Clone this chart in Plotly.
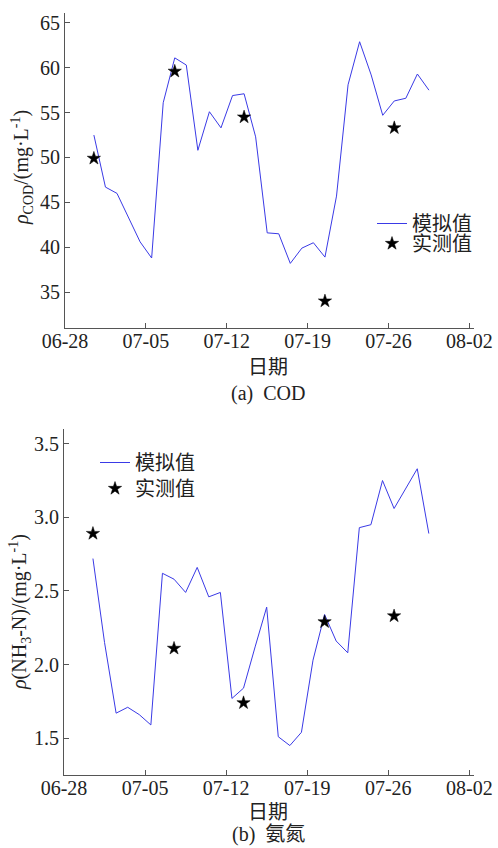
import pandas as pd
import plotly.graph_objects as go

# ---- data ----
sim_dates = pd.date_range("2020-06-30 12:00", periods=30, freq="D")
cod_sim = [52.5, 46.7, 46.0, 43.2, 40.6, 38.8, 56.1, 61.1, 60.3, 50.8,
           55.1, 53.3, 56.9, 57.1, 52.3, 41.6, 41.5, 38.2, 39.9, 40.5,
           38.9, 45.7, 58.1, 62.9, 59.2, 54.7, 56.3, 56.6, 59.3, 57.5]
nh_sim = [2.72, 2.15, 1.67, 1.71, 1.66, 1.59, 2.62, 2.58, 2.49, 2.66,
          2.46, 2.49, 1.77, 1.84, 2.12, 2.39, 1.51, 1.45, 1.54, 2.03,
          2.34, 2.16, 2.08, 2.93, 2.95, 3.25, 3.06, 3.20, 3.33, 2.89]
obs_dates = ["2020-06-30 12:00", "2020-07-07 12:00", "2020-07-13 12:00",
             "2020-07-20 12:00", "2020-07-26 12:00"]
cod_obs = [49.9, 59.6, 54.5, 34.0, 53.3]
nh_obs = [2.89, 2.11, 1.74, 2.29, 2.33]

x_tickvals = ["2020-06-28", "2020-07-05", "2020-07-12", "2020-07-19", "2020-07-26", "2020-08-02"]
x_ticktext = ["06-28", "07-05", "07-12", "07-19", "07-26", "08-02"]
cod_ticks = [35, 40, 45, 50, 55, 60, 65]
nh_ticks = [1.5, 2.0, 2.5, 3.0, 3.5]
nh_ticktext = ["1.5", "2.0", "2.5", "3.0", "3.5"]

# ---- figure ----
W, H = 498, 848
FONT = "Times New Roman, Liberation Serif, Noto Sans CJK SC"
LINE_COLOR = "#3a3ae6"
AX = "#555555"
TXT = "#222222"

def py(y):
    return 1 - y / H

star = dict(symbol="star", size=10, color="black", line=dict(color="black", width=0.5))

fig = go.Figure()
fig.add_trace(go.Scatter(x=sim_dates, y=cod_sim, mode="lines", name="模拟值",
                         line=dict(color=LINE_COLOR, width=1), xaxis="x", yaxis="y",
                         legend="legend"))
fig.add_trace(go.Scatter(x=obs_dates, y=cod_obs, mode="markers", name="实测值",
                         marker=star, xaxis="x", yaxis="y", legend="legend2"))
fig.add_trace(go.Scatter(x=sim_dates, y=nh_sim, mode="lines", name="模拟值",
                         line=dict(color=LINE_COLOR, width=1), xaxis="x2", yaxis="y2",
                         legend="legend3"))
fig.add_trace(go.Scatter(x=obs_dates, y=nh_obs, mode="markers", name="实测值",
                         marker=star, xaxis="x2", yaxis="y2", legend="legend4"))

xcommon = dict(type="date", range=["2020-06-28", "2020-08-02 09:36"],
               tickvals=x_tickvals, ticktext=x_ticktext, automargin=False,
               showline=True, linecolor=AX, linewidth=1, ticks="inside",
               ticklen=5, tickcolor=AX, showgrid=False, zeroline=False,
               ticklabelstandoff=-5,
               tickfont=dict(family=FONT, size=20, color=TXT))
ycommon = dict(showline=True, linecolor=AX, linewidth=1, ticks="inside",
               ticklen=5, tickcolor=AX, showgrid=False, zeroline=False,
               automargin=False,
               tickfont=dict(family=FONT, size=20, color=TXT))

def leg(xpx, ytop):
    return dict(x=xpx / W, y=py(ytop), xanchor="left", yanchor="top",
                bgcolor="rgba(0,0,0,0)", font=dict(family=FONT, size=20, color=TXT),
                itemwidth=30)

fig.update_layout(
    width=W, height=H, margin=dict(l=0, r=0, t=0, b=0, autoexpand=False),
    paper_bgcolor="white", plot_bgcolor="white",
    font=dict(family=FONT, size=20, color=TXT),
    xaxis=dict(xcommon, domain=[65 / W, 474 / W], anchor="y"),
    yaxis=dict(ycommon, domain=[py(328), py(13)], range=[31, 66.1],
               tickvals=cod_ticks, anchor="x"),
    xaxis2=dict(xcommon, domain=[64 / W, 474 / W], anchor="y2"),
    yaxis2=dict(ycommon, domain=[py(775), py(429)], range=[1.25, 3.6],
                tickvals=nh_ticks, ticktext=nh_ticktext, anchor="x2"),
    legend=leg(372, 204),
    legend2=leg(372, 224),
    legend3=leg(95, 443),
    legend4=leg(95, 469),
    showlegend=True,
)

annots = [
    dict(x=22 / W, y=py(168), text="<i>ρ</i><sub>COD</sub>/(mg·L<sup>-1</sup>)",
         textangle=-90, yanchor="middle"),
    dict(x=20 / W, y=py(612), text="<i>ρ</i>(NH<sub>3</sub>-N)/(mg·L<sup>-1</sup>)",
         textangle=-90, yanchor="middle"),
    dict(x=268 / W, y=py(367), text="日期", yanchor="middle"),
    dict(x=268 / W, y=py(393), text="(a)  COD", yanchor="middle"),
    dict(x=268 / W, y=py(812), text="日期", yanchor="middle"),
    dict(x=268 / W, y=0, text="(b)  氨氮", yanchor="bottom"),
]
for a in annots:
    fig.add_annotation(xref="paper", yref="paper", showarrow=False,
                       xanchor="center",
                       font=dict(family=FONT, size=20, color=TXT), **a)

fig.write_html("out.html")
